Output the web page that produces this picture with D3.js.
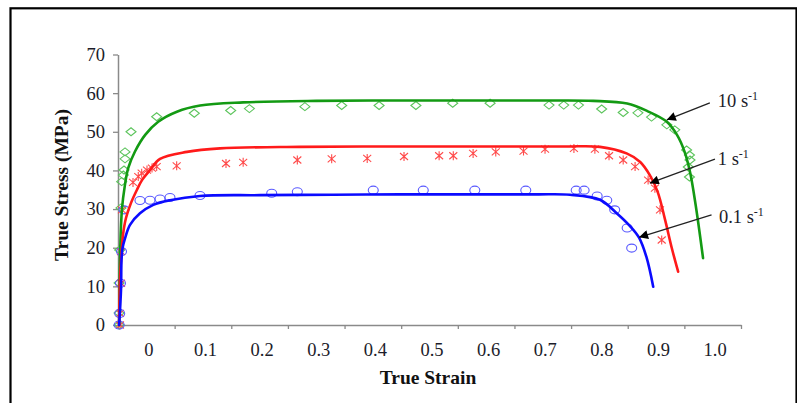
<!DOCTYPE html>
<html>
<head>
<meta charset="utf-8">
<script src="https://cdn.jsdelivr.net/npm/d3@7"></script>
<style>
    body { margin: 0; background: #fff; }
    svg { display: block; font-family: "Liberation Serif", "Times New Roman", serif; }
</style>
</head>
<body>
<svg id="chart"></svg>
<script>
const width = 797;
const height = 403;

// tick labels (Excel style: labels sit between tick marks)
const xLabels = ["0", "0.1", "0.2", "0.3", "0.4", "0.5", "0.6", "0.7", "0.8", "0.9", "1.0"];
const yTicks = [0, 10, 20, 30, 40, 50, 60, 70];

// fitted curves [strain, stress]
const fit10 = [
    [-0.048, 0], [-0.046, 20], [-0.043, 30], [-0.038, 36], [-0.032, 40.6], [-0.020, 44.9],
    [-0.002, 49.2], [0.021, 52.6], [0.054, 55.2], [0.095, 56.8], [0.171, 57.6], [0.30, 58.0],
    [0.45, 58.1], [0.60, 58.1], [0.72, 58.1], [0.789, 58.0], [0.849, 57.3], [0.884, 55.4],
    [0.919, 52.6], [0.937, 49.2], [0.950, 45.0], [0.960, 39.6], [0.970, 31.0], [0.983, 17.3]
];
const fit1 = [
    [-0.048, 0], [-0.0465, 11.6], [-0.0447, 16.8], [-0.0412, 23.3], [-0.0359, 27.7],
    [-0.027, 31.6], [-0.0165, 35.0], [-0.0076, 37.5], [0.0065, 40.1], [0.0242, 43.0],
    [0.0718, 44.8], [0.130, 45.7], [0.271, 46.1], [0.45, 46.2], [0.624, 46.2], [0.74, 46.2],
    [0.801, 46.1], [0.848, 44.4], [0.872, 42.2], [0.889, 38.8], [0.903, 34.4], [0.916, 27.2],
    [0.928, 19.8], [0.939, 13.8]
];
const fit01 = [
    [-0.048, 0], [-0.0447, 9.1], [-0.0438, 16.8], [-0.042, 19.9], [-0.0376, 22.4],
    [-0.0288, 25.9], [-0.0112, 28.9], [0.0123, 31.1], [0.0418, 32.3], [0.0948, 33.4],
    [0.2007, 33.6], [0.33, 33.7], [0.448, 33.8], [0.58, 33.8], [0.69, 33.8], [0.748, 33.7],
    [0.801, 32.4], [0.830, 29.0], [0.854, 25.6], [0.870, 22.6], [0.883, 17.6], [0.895, 9.9]
];

// experimental points [strain, stress]
const exp10 = [
    [-0.048, 0], [-0.048, 3.1], [-0.048, 10.9], [-0.047, 19.4], [-0.0447, 30.3],
    [-0.0435, 37.1], [-0.0406, 38.8], [-0.0394, 40.1], [-0.0376, 43.0], [-0.0376, 44.8],
    [-0.027, 50.0], [0.0183, 53.9], [0.0847, 54.8], [0.149, 55.5], [0.182, 56.0],
    [0.280, 56.5], [0.345, 56.8], [0.411, 56.8], [0.476, 56.8], [0.541, 57.4], [0.607, 57.4],
    [0.711, 56.9], [0.737, 56.9], [0.763, 56.9], [0.804, 55.9], [0.842, 55.0], [0.868, 54.9],
    [0.892, 53.8], [0.919, 51.8], [0.933, 50.5], [0.954, 45.3], [0.959, 44.0], [0.960, 42.7],
    [0.957, 40.9], [0.959, 38.3]
];
const exp1 = [
    [-0.0465, 0], [-0.0465, 3.0], [-0.0447, 10.8], [-0.0447, 19.0], [-0.043, 29.8],
    [-0.0235, 36.9], [-0.0142, 38.4], [-0.0082, 39.3], [0.0012, 40.1], [0.010, 40.6],
    [0.0183, 41.0], [0.0536, 41.2], [0.1407, 41.8], [0.171, 42.1], [0.2666, 42.7],
    [0.3273, 43.0], [0.390, 43.1], [0.455, 43.6], [0.517, 43.8], [0.542, 43.8], [0.577, 44.4],
    [0.617, 44.8], [0.666, 45.0], [0.704, 45.5], [0.755, 45.7], [0.792, 45.5], [0.817, 43.8],
    [0.842, 42.7], [0.863, 41.0], [0.886, 37.5], [0.898, 35.4], [0.907, 29.8], [0.910, 22.0]
];
const exp01 = [
    [-0.048, 0], [-0.047, 3.0], [-0.0456, 10.8], [-0.0438, 19.0], [-0.0394, 29.8],
    [-0.0112, 32.2], [0.0065, 32.3], [0.0242, 32.6], [0.0418, 33.0], [0.0948, 33.5],
    [0.2214, 34.1], [0.2666, 34.5], [0.4007, 34.9], [0.489, 34.9], [0.580, 34.9],
    [0.670, 34.9], [0.759, 34.9], [0.773, 34.9], [0.796, 33.4], [0.813, 32.3],
    [0.827, 29.8], [0.849, 25.1], [0.857, 19.9]
];

// strain-rate labels: text, text position [strain, stress], arrow tail and tip [strain, stress]
const rateLabels = ["10", "1", "0.1"];
const labelAnchors = [[1.009, 56.4], [1.009, 41.4], [1.011, 26.4]];
const arrowTails = [[0.995, 57.5], [1.004, 42.9], [0.998, 28.5]];
const arrowTips = [[0.919, 53.1], [0.889, 36.7], [0.870, 22.7]];

const margin = { top: 54.5, right: 56, bottom: 78, left: 118 };

const svg = d3.select("#chart").attr("width", width).attr("height", height);

// frame
svg.append("rect")
    .attr("x", 10.5).attr("y", 8.3)
    .attr("width", 786).attr("height", 420)
    .attr("fill", "none").attr("stroke", "#000").attr("stroke-width", 2.2);

const x = d3.scaleLinear().domain([-0.05, 1.05]).range([margin.left, width - margin.right]);
const y = d3.scaleLinear().domain([0, 70]).range([height - margin.bottom, margin.top]);
const xBand = d3.scaleBand().domain(xLabels).range(x.range()).paddingInner(0);

// y axis
svg.append("g")
    .attr("transform", `translate(${margin.left},0)`)
    .call(d3.axisLeft(y).tickValues(yTicks).tickSize(5).tickPadding(8).tickSizeOuter(0))
    .call((g) => g.select(".domain").attr("stroke", "#8a8a8a").attr("stroke-width", 1.5))
    .call((g) => g.selectAll(".tick line").attr("stroke", "#8a8a8a").attr("stroke-width", 1.3))
    .call((g) => g.selectAll(".tick text")
        .attr("font-family", "Liberation Serif").attr("font-size", 18.5).attr("fill", "#1c1c2a"));

// x axis: tick marks at band edges, labels in band centres
const xEdges = xLabels.map((d) => xBand(d)).concat([x.range()[1]]);
svg.append("g")
    .attr("transform", `translate(0,${y(0)})`)
    .call(d3.axisBottom(x).tickValues(xEdges.map((p) => x.invert(p))).tickSize(4).tickFormat("").tickSizeOuter(0))
    .call((g) => g.select(".domain").attr("stroke", "#8a8a8a").attr("stroke-width", 1.5))
    .call((g) => g.selectAll(".tick line").attr("stroke", "#8a8a8a").attr("stroke-width", 1.3));

svg.append("g")
    .attr("transform", `translate(2.5,${y(0)})`)
    .call(d3.axisBottom(xBand).tickSize(0).tickPadding(18))
    .call((g) => g.select(".domain").remove())
    .call((g) => g.selectAll(".tick text")
        .attr("font-family", "Liberation Serif").attr("font-size", 18.5).attr("fill", "#1c1c2a"));

// axis titles
svg.append("text")
    .attr("x", 428).attr("y", 384)
    .attr("text-anchor", "middle")
    .attr("font-weight", "bold").attr("font-size", 19.5).attr("fill", "#111")
    .text("True Strain");

svg.append("text")
    .attr("transform", "translate(68,185) rotate(-90)")
    .attr("text-anchor", "middle")
    .attr("font-weight", "bold").attr("font-size", 19.5).attr("fill", "#111")
    .text("True Stress (MPa)");

// markers
const markers = svg.append("g");
markers.selectAll(".m10").data(exp10).join("path")
    .attr("class", "m10")
    .attr("transform", (d) => `translate(${x(d[0])},${y(d[1])})`)
    .attr("d", "M-5,0L0,-4L5,0L0,4Z")
    .attr("fill", "none").attr("stroke", "#5cc45c").attr("stroke-width", 1.1);

markers.selectAll(".m1").data(exp1).join("path")
    .attr("class", "m1")
    .attr("transform", (d) => `translate(${x(d[0])},${y(d[1])})`)
    .attr("d", "M-4,-3.5L4,3.5M-4,3.5L4,-3.5M0,-4.5L0,4.5")
    .attr("fill", "none").attr("stroke", "#ff4a4a").attr("stroke-width", 1.1);

markers.selectAll(".m01").data(exp01).join("ellipse")
    .attr("class", "m01")
    .attr("cx", (d) => x(d[0])).attr("cy", (d) => y(d[1]))
    .attr("rx", 5).attr("ry", 4)
    .attr("fill", "none").attr("stroke", "#5a5aff").attr("stroke-width", 1.1);

// fitted curves
const line = d3.line().x((d) => x(d[0])).y((d) => y(d[1])).curve(d3.curveCatmullRom.alpha(0.5));
const fits = [[fit10, "#139a13"], [fit1, "#ff1a1a"], [fit01, "#0b0bff"]];
svg.append("g").selectAll("path").data(fits).join("path")
    .attr("d", (d) => line(d[0]))
    .attr("fill", "none").attr("stroke", (d) => d[1]).attr("stroke-width", 2.6)
    .attr("stroke-linecap", "round");

// arrows and rate labels
svg.append("defs").append("marker")
    .attr("id", "head").attr("viewBox", "0 0 10 10")
    .attr("refX", 10).attr("refY", 5)
    .attr("markerWidth", 12).attr("markerHeight", 9)
    .attr("markerUnits", "userSpaceOnUse")
    .attr("orient", "auto")
    .append("path").attr("d", "M0,0L10,5L0,10Z").attr("fill", "#000");

const notes = svg.append("g");
rateLabels.forEach((t, i) => {
    notes.append("line")
        .attr("x1", x(arrowTails[i][0])).attr("y1", y(arrowTails[i][1]))
        .attr("x2", x(arrowTips[i][0])).attr("y2", y(arrowTips[i][1]))
        .attr("stroke", "#222").attr("stroke-width", 1.3)
        .attr("marker-end", "url(#head)");
    const txt = notes.append("text")
        .attr("x", x(labelAnchors[i][0])).attr("y", y(labelAnchors[i][1]))
        .attr("font-size", 18.5).attr("fill", "#1c1c2a");
    txt.append("tspan").text(t + " s");
    txt.append("tspan").attr("dy", -7).attr("font-size", 12).text("-1");
});
</script>
</body>
</html>
